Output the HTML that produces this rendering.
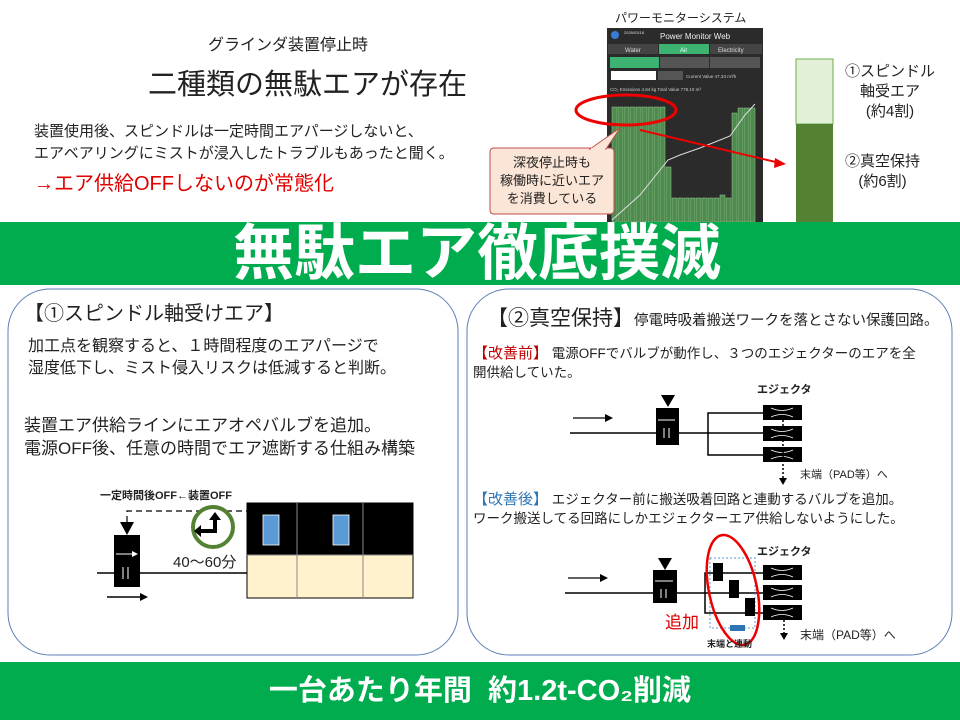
<!DOCTYPE html>
<html><head><meta charset="utf-8"><style>
*{margin:0;padding:0;box-sizing:border-box}
body{width:960px;height:720px;position:relative;background:#fff;font-family:"Liberation Sans","Noto Sans CJK JP",sans-serif;color:#222;overflow:hidden}
.t{position:absolute;white-space:nowrap}
</style></head><body>
<div class="t" style="left:208px;top:31px;font-size:16px">グラインダ装置停止時</div>
<div class="t" style="left:148px;top:61px;font-size:29px">二種類の無駄エアが存在</div>
<div class="t" style="left:34px;top:121px;font-size:15px;line-height:22px">装置使用後、スピンドルは一定時間エアパージしないと、<br>エアベアリングにミストが浸入したトラブルもあったと聞く。</div>
<div class="t" style="left:34px;top:167px;font-size:20px;color:#e00000">→エア供給OFFしないのが常態化</div>
<div class="t" style="left:615px;top:9px;font-size:12px">パワーモニターシステム</div>

<svg style="position:absolute;left:0;top:0" width="960" height="720">
<rect x="607" y="28" width="156" height="194" fill="#2b2b2b"/>
<circle cx="615" cy="35" r="4" fill="#3a7bd5"/>
<text x="624" y="34" font-size="4" fill="#ddd">2025/03/18</text>
<text x="660" y="39" font-size="8" fill="#eee" font-family="Liberation Sans">Power Monitor Web</text>
<rect x="608" y="44" width="50" height="10" fill="#444"/><text x="625" y="52" font-size="6" fill="#ddd">Water</text>
<rect x="659" y="44" width="50" height="10" fill="#3cb371"/><text x="680" y="52" font-size="6" fill="#fff">Air</text>
<rect x="710" y="44" width="52" height="10" fill="#444"/><text x="718" y="52" font-size="6" fill="#ddd">Electricity</text>
<rect x="610" y="57" width="49" height="11" fill="#3cb371"/><rect x="660" y="57" width="49" height="11" fill="#555"/><rect x="710" y="57" width="50" height="11" fill="#555"/>
<rect x="611" y="71" width="45" height="9" fill="#fff"/><rect x="658" y="71" width="25" height="9" fill="#555"/>
<text x="686" y="78" font-size="4.5" fill="#ccc">Current Value   47.33  m³/h</text>
<text x="610" y="91" font-size="4.5" fill="#ccc">CO₂ Emissions  4.94  kg  Total Value  778.10 m³</text>
<g fill="#4f8a4f" stroke="#9c9" stroke-width="0.5">
<rect x="612" y="107" width="5" height="115"/><rect x="618" y="107" width="5" height="115"/><rect x="624" y="107" width="5" height="115"/><rect x="630" y="107" width="5" height="115"/><rect x="636" y="107" width="5" height="115"/><rect x="642" y="107" width="5" height="115"/><rect x="648" y="107" width="5" height="115"/><rect x="654" y="107" width="5" height="115"/><rect x="660" y="107" width="5" height="115"/>
<rect x="666" y="167" width="5" height="55"/>
<rect x="672" y="198" width="5" height="24"/><rect x="678" y="198" width="5" height="24"/><rect x="684" y="198" width="5" height="24"/><rect x="690" y="198" width="5" height="24"/><rect x="696" y="198" width="5" height="24"/><rect x="702" y="198" width="5" height="24"/><rect x="708" y="198" width="5" height="24"/><rect x="714" y="198" width="5" height="24"/><rect x="720" y="195" width="5" height="27"/><rect x="726" y="198" width="5" height="24"/>
<rect x="732" y="113" width="5" height="109"/><rect x="738" y="108" width="5" height="114"/><rect x="744" y="108" width="5" height="114"/><rect x="750" y="108" width="5" height="114"/>
</g>
<polyline points="612,220 640,195 668,160 680,155 700,148 720,140 730,136 745,115 755,104" fill="none" stroke="#ddd" stroke-width="1"/>
<ellipse cx="626" cy="110" rx="50" ry="15" fill="none" stroke="#e00" stroke-width="3"/>
<line x1="640" y1="130" x2="780" y2="163" stroke="#e00" stroke-width="2"/>
<polygon points="786,164 775,158 774,168" fill="#e00"/>
<path d="M494,148 H610 Q614,148 614,152 V210 Q614,214 610,214 H494 Q490,214 490,210 V152 Q490,148 494,148 Z" fill="#fbe5d6" stroke="#c0504d" stroke-width="1"/>
<polygon points="590,149 620,128 606,149" fill="#fbe5d6" stroke="#c0504d"/>
<line x1="591" y1="149" x2="605" y2="149" stroke="#fbe5d6" stroke-width="2"/>
<rect x="796" y="59" width="37" height="65" fill="#e2efd9" stroke="#70ad47"/>
<rect x="796" y="124" width="37" height="98" fill="#548235"/>
<rect x="0" y="222" width="960" height="63" fill="#00ac4e"/>
<rect x="0" y="662" width="960" height="58" fill="#00ac4e"/>
<rect x="8" y="289" width="450" height="366" rx="42" fill="none" stroke="#5b7fb5" stroke-width="1"/>
<rect x="467" y="289" width="485" height="366" rx="42" fill="none" stroke="#5b7fb5" stroke-width="1"/>
<polyline points="127,522 127,511 247,511" fill="none" stroke="#000" stroke-width="1.2" stroke-dasharray="6,4"/>
<polygon points="120,522 134,522 127,535" fill="#000"/>
<rect x="114" y="535" width="26" height="52" fill="#000"/>
<line x1="116" y1="554" x2="136" y2="554" stroke="#fff"/><polygon points="138,554 132,551 132,557" fill="#fff"/>
<line x1="97" y1="573" x2="247" y2="573" stroke="#000" stroke-width="1.5"/>
<line x1="123" y1="567" x2="123" y2="579" stroke="#fff"/><line x1="128" y1="567" x2="128" y2="579" stroke="#fff"/>
<line x1="107" y1="597" x2="142" y2="597" stroke="#000" stroke-width="1.5"/><polygon points="148,597 140,593 140,601" fill="#000"/>
<rect x="247" y="503" width="166" height="95" fill="#fff2cc" stroke="#000"/>
<rect x="247" y="503" width="166" height="52" fill="#000"/>
<line x1="297" y1="503" x2="297" y2="598" stroke="#888"/><line x1="363" y1="503" x2="363" y2="598" stroke="#888"/>
<line x1="247" y1="555" x2="413" y2="555" stroke="#888"/>
<rect x="263" y="515" width="16" height="30" fill="#5b9bd5" stroke="#fff" stroke-width="0.8"/>
<rect x="333" y="515" width="16" height="30" fill="#5b9bd5" stroke="#fff" stroke-width="0.8"/>
<circle cx="213" cy="527" r="20" fill="#fff" stroke="#548235" stroke-width="4"/>
<path d="M199,531 H215 V518" fill="none" stroke="#000" stroke-width="4"/>
<polygon points="209,520 221,520 215,512" fill="#000"/><polygon points="201,525 201,537 194,531" fill="#000"/>
<line x1="573" y1="418" x2="606" y2="418" stroke="#000" stroke-width="1.2"/><polygon points="613,418 605,414 605,422" fill="#000"/>
<line x1="570" y1="433" x2="763" y2="433" stroke="#000" stroke-width="1.5"/>
<polygon points="661,395 675,395 668,407" fill="#000"/><rect x="656" y="408" width="23" height="37" fill="#000"/>
<line x1="658" y1="420" x2="675" y2="420" stroke="#fff"/><line x1="664" y1="428" x2="664" y2="438" stroke="#fff"/><line x1="669" y1="428" x2="669" y2="438" stroke="#fff"/>
<polyline points="763,413 708,413 708,455 763,455" fill="none" stroke="#000" stroke-width="1.5"/>
<g id="ej"><rect x="763" y="405" width="39" height="15" fill="#000"/><path d="M771,408 Q782,413 793,408 M771,417 Q782,412 793,417" stroke="#fff" fill="none" stroke-width="0.8"/></g>
<use href="#ej" y="21"/><use href="#ej" y="42"/>
<line x1="783" y1="420" x2="783" y2="478" stroke="#000" stroke-width="1.5" stroke-dasharray="2,2"/><polygon points="779,478 787,478 783,485" fill="#000"/>
<line x1="568" y1="578" x2="601" y2="578" stroke="#000" stroke-width="1.2"/><polygon points="608,578 600,574 600,582" fill="#000"/>
<line x1="565" y1="593" x2="763" y2="593" stroke="#000" stroke-width="1.5"/>
<polygon points="658,558 672,558 665,570" fill="#000"/><rect x="653" y="570" width="24" height="33" fill="#000"/>
<line x1="655" y1="581" x2="673" y2="581" stroke="#fff"/><line x1="661" y1="589" x2="661" y2="598" stroke="#fff"/><line x1="666" y1="589" x2="666" y2="598" stroke="#fff"/>
<polyline points="763,573 705,573 705,613 763,613" fill="none" stroke="#000" stroke-width="1.5"/>
<rect x="710" y="558" width="45" height="70" fill="none" stroke="#5b9bd5" stroke-dasharray="2,2"/>
<rect x="713" y="563" width="10" height="18" fill="#000"/><rect x="729" y="580" width="10" height="18" fill="#000"/><rect x="745" y="598" width="10" height="18" fill="#000"/>
<use href="#ej" y="160"/><use href="#ej" y="180"/><use href="#ej" y="200"/>
<line x1="784" y1="620" x2="784" y2="633" stroke="#000" stroke-width="1.5" stroke-dasharray="2,2"/><polygon points="780,633 788,633 784,640" fill="#000"/>
<ellipse cx="733" cy="590" rx="24" ry="56" transform="rotate(-12 733 590)" fill="none" stroke="#e00" stroke-width="2.5"/>
<rect x="730" y="625" width="15" height="6" fill="#2e75b6"/>
</svg>

<div class="t" style="left:845px;top:62px;font-size:15px;line-height:20px;text-align:center">①スピンドル<br>軸受エア<br>(約4割)</div>
<div class="t" style="left:845px;top:152px;font-size:15px;line-height:20px;text-align:center">②真空保持<br>(約6割)</div>
<div class="t" style="left:490px;top:154px;width:124px;font-size:13px;line-height:18px;text-align:center">深夜停止時も<br>稼働時に近いエア<br>を消費している</div>
<div class="t" style="left:0;top:222px;width:954px;text-align:center;font-size:61px;font-weight:bold;color:#fff;line-height:63px">無駄エア徹底撲滅</div>
<div class="t" style="left:0;top:672px;width:960px;text-align:center;font-size:29px;font-weight:bold;color:#fff;line-height:38px">一台あたり年間&nbsp; 約1.2t-CO₂削減</div>

<div class="t" style="left:24px;top:297px;font-size:20px">【①スピンドル軸受けエア】</div>
<div class="t" style="left:28px;top:336px;font-size:16px;line-height:22px">加工点を観察すると、１時間程度のエアパージで<br>湿度低下し、ミスト侵入リスクは低減すると判断。</div>
<div class="t" style="left:24px;top:414px;font-size:17px;line-height:23px">装置エア供給ラインにエアオペバルブを追加。<br>電源OFF後、任意の時間でエア遮断する仕組み構築</div>
<div class="t" style="left:100px;top:487px;font-size:11px;font-weight:bold">一定時間後OFF←装置OFF</div>
<div class="t" style="left:173px;top:551px;font-size:15px">40～60分</div>

<div class="t" style="left:487px;top:302px;font-size:21px">【②真空保持】<span style="font-size:14.5px">停電時吸着搬送ワークを落とさない保護回路。</span></div>
<div class="t" style="left:473px;top:344px;font-size:13.5px;line-height:19px"><span style="color:#c00000;font-size:15px">【改善前】</span> 電源OFFでバルブが動作し、３つのエジェクターのエアを全<br>開供給していた。</div>
<div class="t" style="left:757px;top:381px;font-size:11px;font-weight:bold">エジェクタ</div>
<div class="t" style="left:800px;top:466px;font-size:11px">末端（PAD等）へ</div>
<div class="t" style="left:473px;top:490px;font-size:13.5px;line-height:19px"><span style="color:#2e75b6;font-size:15px">【改善後】</span> エジェクター前に搬送吸着回路と連動するバルブを追加。<br>ワーク搬送してる回路にしかエジェクターエア供給しないようにした。</div>
<div class="t" style="left:757px;top:543px;font-size:11px;font-weight:bold">エジェクタ</div>
<div class="t" style="left:665px;top:608px;font-size:17px;color:#e00000">追加</div>
<div class="t" style="left:800px;top:626px;font-size:12px">末端（PAD等）へ</div>
<div class="t" style="left:707px;top:637px;font-size:9px;font-weight:bold">末端と連動</div>
</body></html>
